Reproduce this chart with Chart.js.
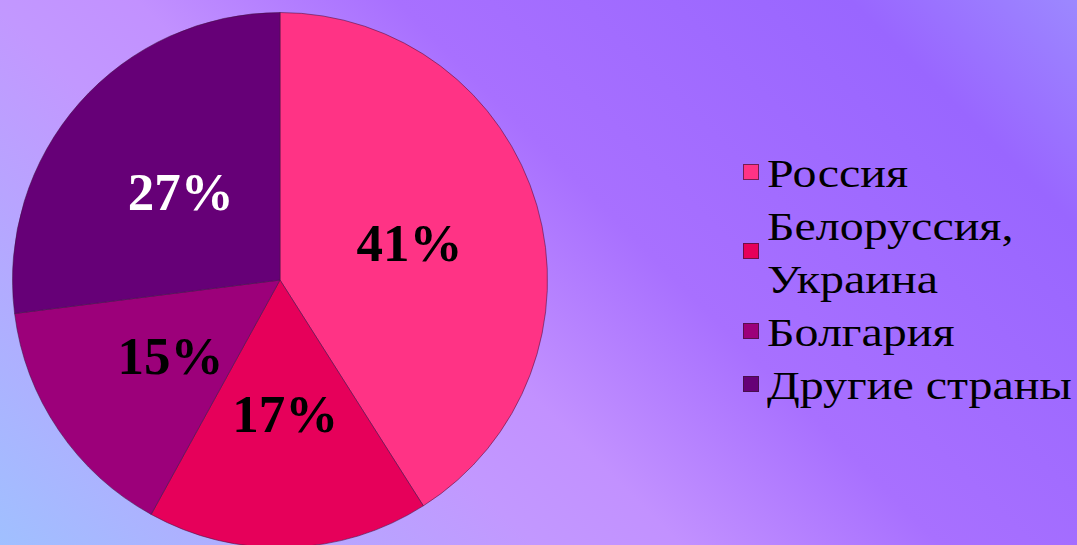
<!DOCTYPE html>
<html>
<head>
<meta charset="utf-8">
<script src="https://cdn.jsdelivr.net/npm/chart.js@4/dist/chart.umd.min.js"></script>
<style>
  html, body {
    margin: 0;
    padding: 0;
    width: 1077px;
    height: 545px;
    overflow: hidden;
  }
  body {
    position: relative;
    background: linear-gradient(45deg, #a0c0ff 0%, #b8a4ff 22%, #c298ff 33%, #c291ff 42%, #a870ff 58%, #9966ff 86%, #9c88ff 100%);
  }
  #pieBox {
    position: absolute;
    left: 12px;
    top: 12px;
    width: 536px;
    height: 536px;
  }
  #legend {
    position: absolute;
    left: 743px;
    top: 147px;
    font-family: "Liberation Serif", "DejaVu Serif", serif;
    font-size: 41px;
    line-height: 53px;
    color: #000;
  }
  .item {
    display: flex;
    align-items: center;
  }
  .box {
    width: 14px;
    height: 14px;
    border: 1px solid rgba(60, 20, 60, 0.7);
    margin-right: 8px;
    margin-top: -4px;
    flex: none;
  }
  .txt {
    white-space: pre-line;
    transform: scaleX(1.17);
    transform-origin: left center;
  }
</style>
</head>
<body>
<div id="pieBox"><canvas id="pie"></canvas></div>
<div id="legend"></div>
<script>
// values
const labels = ['Россия', 'Белоруссия,\nУкраина', 'Болгария', 'Другие страны'];
const values = [41, 17, 15, 27];
const sliceColors = ['#ff3385', '#e6005a', '#9c007a', '#660077'];
const valueTextColors = ['#000000', '#000000', '#000000', '#ffffff'];

// percentage labels inside the slices
const sliceLabels = {
  id: 'sliceLabels',
  afterDatasetsDraw(chart) {
    const ctx = chart.ctx;
    const meta = chart.getDatasetMeta(0);
    ctx.save();
    ctx.font = 'bold 53px "Liberation Serif", "DejaVu Serif", serif';
    ctx.textAlign = 'center';
    ctx.textBaseline = 'middle';
    meta.data.forEach((arc, i) => {
      const p = arc.getProps(['x', 'y', 'startAngle', 'endAngle', 'outerRadius'], true);
      const mid = (p.startAngle + p.endAngle) / 2;
      const r = p.outerRadius * 0.5;
      ctx.fillStyle = valueTextColors[i];
      ctx.fillText(values[i] + '%', p.x + Math.cos(mid) * r + 1, p.y + Math.sin(mid) * r + 5);
    });
    ctx.restore();
  }
};

new Chart(document.getElementById('pie'), {
  type: 'pie',
  data: {
    labels: labels,
    datasets: [{
      data: values,
      backgroundColor: sliceColors,
      borderColor: 'rgba(70, 20, 70, 0.55)',
      borderWidth: 1
    }]
  },
  options: {
    responsive: true,
    maintainAspectRatio: false,
    animation: false,
    layout: { padding: 0 },
    plugins: {
      legend: { display: false },
      tooltip: { enabled: false }
    }
  },
  plugins: [sliceLabels]
});

// legend on the right
const legend = document.getElementById('legend');
labels.forEach((name, i) => {
  const item = document.createElement('div');
  item.className = 'item';
  const box = document.createElement('div');
  box.className = 'box';
  box.style.background = sliceColors[i];
  const txt = document.createElement('div');
  txt.className = 'txt';
  txt.textContent = name;
  item.appendChild(box);
  item.appendChild(txt);
  legend.appendChild(item);
});
</script>
</body>
</html>
